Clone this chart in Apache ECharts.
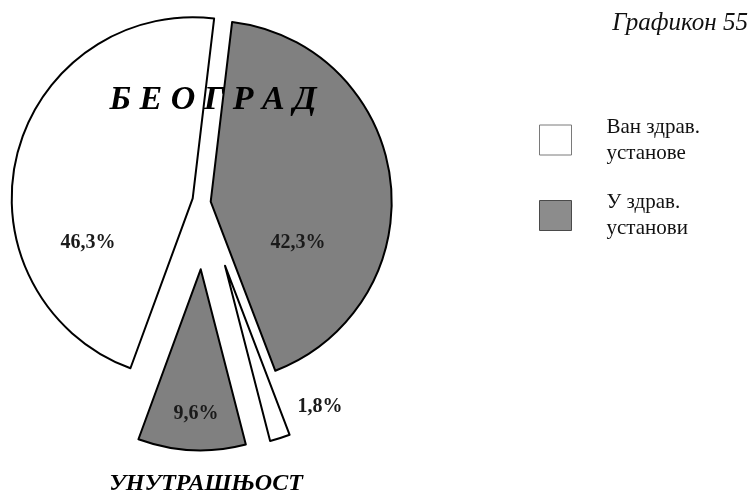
<!DOCTYPE html>
<html>
<head>
<meta charset="utf-8">
<script src="https://cdn.jsdelivr.net/npm/echarts@6/dist/echarts.min.js"></script>
<style>
  html, body { margin: 0; padding: 0; background: #ffffff; }
  #chart { width: 751px; height: 493px; }
</style>
</head>
<body>
<div id="chart"></div>
<script>
// Slices in clockwise order, starting just right of 12 o'clock
const sliceNames   = ['У здрав. установи', 'Ван здрав. установе', 'У здрав. установи', 'Ван здрав. установе'];
const sliceRegions = ['Београд', 'Унутрашњост', 'Унутрашњост', 'Београд'];
const sliceValues  = [42.3, 1.8, 9.6, 46.3];

// Legend entries
const legendNames = ['Ван здрав. установе', 'У здрав. установи'];

// Free text
const chartTitle   = 'Графикон 55';
const regionTitles = ['Б Е О Г Р А Д', 'УНУТРАШЊОСТ'];

// ---- styling / layout ----
const SERIF = '"Liberation Serif", "Times New Roman", "DejaVu Serif", serif';
const fillFor = { 'Ван здрав. установе': '#ffffff', 'У здрав. установи': '#808080' };
// each slice is pulled out from the common centre: its own pie centre
const sliceCenters = [[210.7, 201.7], [225, 265.7], [200.7, 269.3], [192.7, 198.3]];
// percentage label anchors
const labelAnchors = [[298, 243], [320, 407], [196, 414], [88, 243]];
const RADIUS = 181;
const START_ANGLE = 83.2;

const fmtPct = v => v.toFixed(1).replace('.', ',') + '%';

// one pie per slice: all values keep the angles, only slice i is painted
const series = sliceValues.map((_, i) => ({
  type: 'pie',
  name: sliceRegions[i],
  center: sliceCenters[i],
  radius: [0, RADIUS],
  startAngle: START_ANGLE,
  clockwise: true,
  silent: true,
  avoidLabelOverlap: false,
  emphasis: { disabled: true },
  labelLine: { show: false },
  label: {
    show: true,
    position: 'inside',
    formatter: p => fmtPct(p.value),
    fontFamily: SERIF,
    fontWeight: 'bold',
    fontSize: 20,
    color: '#1a1a1a'
  },
  labelLayout: () => ({
    x: labelAnchors[i][0],
    y: labelAnchors[i][1],
    align: 'center',
    verticalAlign: 'middle'
  }),
  data: sliceValues.map((v, j) => j === i
    ? {
        name: sliceNames[j],
        value: v,
        itemStyle: { color: fillFor[sliceNames[j]], borderColor: '#000000', borderWidth: 2 }
      }
    : {
        name: sliceNames[j],
        value: v,
        itemStyle: { color: 'rgba(0,0,0,0)', borderWidth: 0 },
        label: { show: false }
      })
}));

const legendStyle = [
  { top: 111, pad: [0, 0, 6, 30], fill: '#ffffff', border: '#7a7a7a' },
  { top: 178.5, pad: [22, 0, 0, 30], fill: '#8c8c8c', border: '#4a4a4a' }
];

const legends = legendNames.map((n, k) => ({
  show: true,
  left: 539,
  top: legendStyle[k].top,
  padding: 0,
  orient: 'vertical',
  icon: 'rect',
  itemWidth: 32,
  itemHeight: 30,
  selectedMode: false,
  formatter: name => name.replace('. ', '.\n'),
  textStyle: {
    fontFamily: SERIF,
    fontSize: 21,
    lineHeight: 26,
    color: '#111111',
    padding: legendStyle[k].pad
  },
  data: [{
    name: n,
    itemStyle: { color: legendStyle[k].fill, borderColor: legendStyle[k].border, borderWidth: 1 }
  }]
}));

const option = {
  animation: false,
  backgroundColor: '#ffffff',
  legend: legends,
  series: series,
  graphic: [
    {
      type: 'text', z: 100,
      style: {
        text: chartTitle, x: 748, y: 23.5,
        textAlign: 'right', textVerticalAlign: 'middle',
        font: 'italic 25px ' + SERIF, fill: '#111111'
      }
    },
    {
      type: 'text', z: 100,
      style: {
        text: regionTitles[0], x: 213, y: 100,
        textAlign: 'center', textVerticalAlign: 'middle',
        font: 'italic bold 34px ' + SERIF, fill: '#000000'
      }
    },
    {
      type: 'text', z: 100,
      style: {
        text: regionTitles[1], x: 206, y: 484,
        textAlign: 'center', textVerticalAlign: 'middle',
        font: 'italic bold 24px ' + SERIF, fill: '#000000'
      }
    }
  ]
};

const chart = echarts.init(document.getElementById('chart'), null, { renderer: 'canvas' });
chart.setOption(option);
</script>
</body>
</html>
